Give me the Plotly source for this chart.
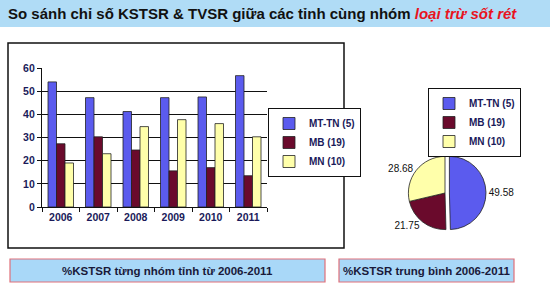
import plotly.graph_objects as go

years = ["2006", "2007", "2008", "2009", "2010", "2011"]
series_names = ["MT-TN (5)", "MB (19)", "MN (10)"]
mt_tn = [54.0, 47.2, 41.2, 47.2, 47.5, 56.7]
mb = [27.3, 30.3, 24.6, 15.6, 17.0, 13.5]
mn = [19.0, 23.0, 34.7, 37.7, 36.0, 30.3]
avg_values = [49.58, 21.75, 28.68]

colors = ["#5B5BEE", "#6A0A2C", "#FFFFAA"]
W, H = 550, 290
TXT = "#1A1A5A"
LEGFONT = "Liberation Sans"


def px(x):
    return x / W


def py(y):
    return 1 - y / H


fig = go.Figure()
for name, vals, c in zip(series_names, [mt_tn, mb, mn], colors):
    fig.add_trace(go.Bar(x=years, y=vals, name=f"<b>{name}</b>",
                         marker=dict(color=c, line=dict(color="#222", width=0.8)),
                         legend="legend", hoverinfo="y"))

fig.add_trace(go.Pie(labels=[f"<b>{n}</b>" for n in series_names], values=avg_values, sort=False,
                     direction="clockwise", rotation=0,
                     marker=dict(colors=colors, line=dict(color="#222", width=0.8)),
                     pull=[0.12, 0, 0], textposition="outside", texttemplate="%{value}",
                     textfont=dict(size=10, color="#111", family="Liberation Sans"),
                     domain=dict(x=[px(380), px(510)], y=[py(234), py(152)]),
                     legend="legend2", showlegend=True))

shapes = [
    dict(type="rect", xref="paper", yref="paper", x0=0, x1=1, y0=py(27), y1=1,
         fillcolor="#B0DCF6", line=dict(width=0), layer="below"),
    dict(type="rect", xref="paper", yref="paper", x0=px(8), x1=px(344), y0=py(248), y1=py(43),
         fillcolor="rgba(0,0,0,0)", line=dict(color="#111", width=1.5)),
    dict(type="rect", xref="paper", yref="paper", x0=px(10), x1=px(325), y0=py(282), y1=py(259),
         fillcolor="#A9D8F8", line=dict(color="#E0707A", width=1.2), layer="below"),
    dict(type="rect", xref="paper", yref="paper", x0=px(339), x1=px(514), y0=py(282), y1=py(259),
         fillcolor="#A9D8F8", line=dict(color="#E0707A", width=1.2), layer="below"),
]

annotations = [
    dict(xref="paper", yref="paper", x=px(262), y=py(13.5), xanchor="center", yanchor="middle", showarrow=False,
         text="<b>So sánh chỉ số KSTSR &amp; TVSR giữa các tỉnh cùng nhóm </b>"
              "<b><i><span style='color:#E8141E'>loại trừ sốt rét</span></i></b>",
         font=dict(size=15, color="#111", family="Liberation Sans")),
    dict(xref="paper", yref="paper", x=px(167.5), y=py(270.5), xanchor="center", yanchor="middle", showarrow=False,
         text="<b>%KSTSR từng nhóm tỉnh từ 2006-2011</b>",
         font=dict(size=11.5, color="#1A1A3A", family="Liberation Sans")),
    dict(xref="paper", yref="paper", x=px(426.5), y=py(270.5), xanchor="center", yanchor="middle", showarrow=False,
         text="<b>%KSTSR trung bình 2006-2011</b>",
         font=dict(size=11.5, color="#1A1A3A", family="Liberation Sans")),
]

fig.update_layout(
    width=W, height=H, margin=dict(l=0, r=0, t=0, b=0, autoexpand=False),
    paper_bgcolor="white", plot_bgcolor="white",
    barmode="group", bargap=0.32, bargroupgap=0,
    font=dict(family="Liberation Sans", color=TXT),
    xaxis=dict(domain=[px(42), px(267)], type="category", showline=True, linecolor="#111", linewidth=1.2,
               ticks="outside", tickson="boundaries", ticklen=4, tickcolor="#111",
               tickfont=dict(size=10.5, color=TXT, family="Liberation Sans"), tickprefix="<b>", ticksuffix="</b>",
               showgrid=False),
    yaxis=dict(domain=[py(207), py(68)], range=[0, 60], dtick=10, showline=True, linecolor="#111", linewidth=1.2,
               ticks="outside", ticklen=4, tickcolor="#111", showgrid=True, gridcolor="#111", gridwidth=1.2,
               tickfont=dict(size=10.5, color=TXT, family="Liberation Sans"), tickprefix="<b>", ticksuffix="</b>",
               zeroline=False),
    legend=dict(x=px(268), y=py(108), xanchor="left", yanchor="top", xref="paper", yref="paper",
                bgcolor="white", bordercolor="#111",
                borderwidth=1, font=dict(size=10, color=TXT, family=LEGFONT),
                itemwidth=30),
    legend2=dict(x=px(428), y=py(88), xanchor="left", yanchor="top", xref="paper", yref="paper",
                 bgcolor="white", bordercolor="#111",
                 borderwidth=1, font=dict(size=10, color=TXT, family=LEGFONT), itemwidth=30),
    shapes=shapes, annotations=annotations,
)

fig.write_html("out.html")
